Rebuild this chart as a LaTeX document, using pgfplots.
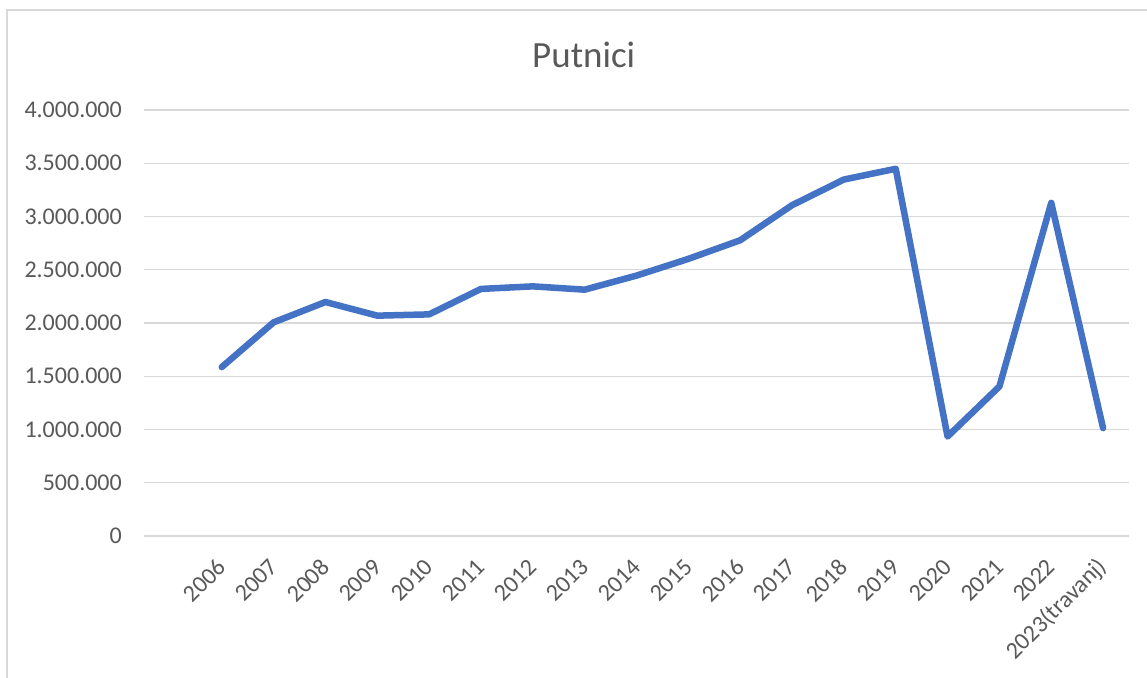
\documentclass[border=0pt]{standalone}
\usepackage{pgfplots}
\pgfplotsset{compat=1.18}
\usepackage{fontspec}
\setmainfont{Carlito}
\definecolor{linecol}{HTML}{4472C4}
\definecolor{gridcol}{HTML}{D9D9D9}
\definecolor{txtcol}{HTML}{595959}
\begin{document}
\begin{tikzpicture}
\useasboundingbox (0pt,0pt) rectangle (1147pt,677pt);
\fill[white] (0pt,0pt) rectangle (1147pt,677pt);
\draw[gridcol, line width=1.5pt] (7pt,-5pt) -- (7pt,667pt) -- (1160pt,667pt);
\begin{axis}[
  at={(144pt,141pt)}, anchor=south west,
  scale only axis, width=985pt, height=426pt,
  xmin=-1.5, xmax=17.5, ymin=0, ymax=4000000,
  scaled y ticks=false,
  axis line style={draw=none},
  tick style={draw=none},
  ymajorgrids, grid style={gridcol, line width=1.4pt},
  ytick={0,500000,1000000,1500000,2000000,2500000,3000000,3500000,4000000},
  yticklabels={0,500.000,1.000.000,1.500.000,2.000.000,2.500.000,3.000.000,3.500.000,4.000.000},
  xtick={0,...,17},
  xticklabels={2006,2007,2008,2009,2010,2011,2012,2013,2014,2015,2016,2017,2018,2019,2020,2021,2022,2023(travanj)},
  yticklabel style={font=\fontsize{24}{28}\selectfont, text=txtcol, inner sep=0pt, anchor=east, xshift=-22pt},
  xticklabel style={font=\fontsize{24}{28}\selectfont, text=txtcol, inner sep=0pt, yshift=-27pt, xshift=0pt, rotate=45, anchor=east},
  clip=false,
]
\addplot[linecol, line width=6.5pt, line join=round, line cap=round] coordinates {
(0,1586000) (1,2006000) (2,2197000) (3,2069000) (4,2081000) (5,2320000)
(6,2344000) (7,2313000) (8,2445000) (9,2602000) (10,2777000) (11,3106000)
(12,3347000) (13,3448000) (14,934000) (15,1404000) (16,3128000) (17,1013000)
};
\end{axis}
\node[anchor=base, text=txtcol, font=\fontsize{37}{44}\selectfont, inner sep=0pt] at (583.7pt,609.3pt) {Putnici};
\end{tikzpicture}
\end{document}
